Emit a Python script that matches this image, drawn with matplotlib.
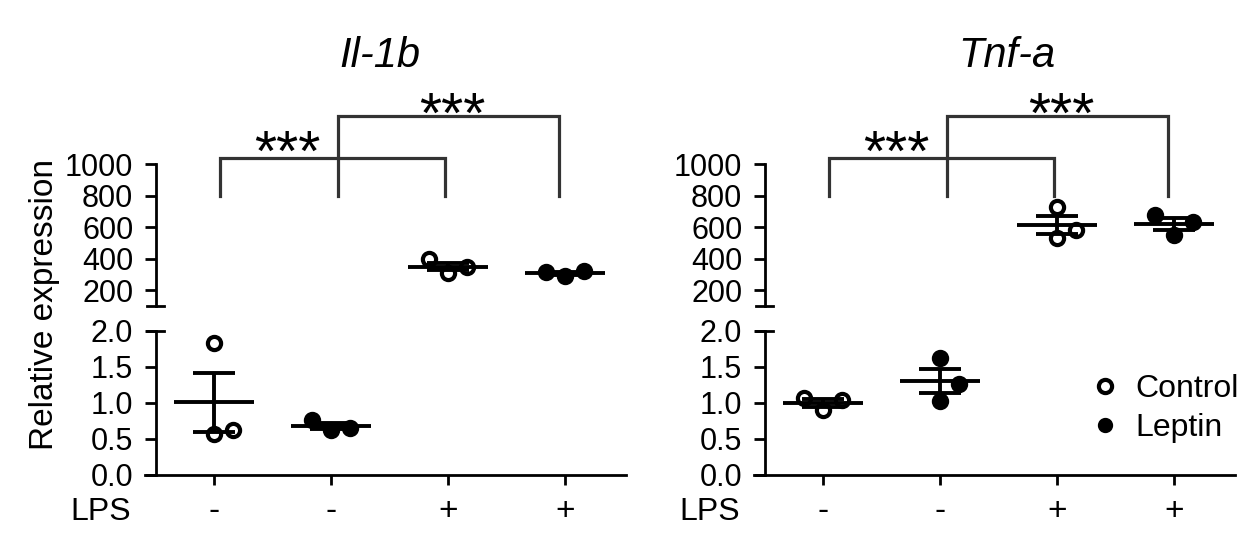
import numpy as np
import matplotlib.pyplot as plt
from matplotlib.lines import Line2D

plt.rcParams['font.family'] = ['Liberation Sans', 'DejaVu Sans']

# groups along x: treatment and LPS
treatments = ['Control', 'Leptin', 'Control', 'Leptin']
lps_labels = ['-', '-', '+', '+']

# relative expression, 3 replicates per group
il1b_values = [[1.83, 0.57, 0.63], [0.76, 0.63, 0.65], [395, 310, 345], [315, 290, 320]]
tnfa_values = [[1.07, 0.90, 1.04], [1.62, 1.27, 1.03], [727, 530, 581], [676, 549, 632]]

# horizontal spread of overlapping points (-1 left, 0 centre, 1 right)
il1b_spread = [[0, 0, 1], [-1, 0, 1], [-1, 0, 1], [-1, 0, 1]]
tnfa_spread = [[-1, 0, 1], [0, 1, 0], [0, 0, 1], [-1, 0, 1]]

# significance brackets: (from group, to group, bracket height, star x, star y)
brackets = [(0, 2, 1038, 0.63, 1051), (1, 3, 1305, 2.04, 1290)]

top_ticks = [200, 400, 600, 800, 1000]
bot_ticks = [0.0, 0.5, 1.0, 1.5, 2.0]

fig = plt.figure(figsize=(12.51, 5.33), dpi=100)

W, H = 1251.0, 533.0
top_box = (1 - 306 / H, 142 / H)
bot_box = (1 - 475 / H, 144 / H)
panel_w = 481 / W
panel_lefts = [145 / W, 754 / W]
XMIN, XMAX, YSPINE = -0.59, 3.52, -0.5

MS, MEW, LW = 9.5, 3.0, 2.8


def style_axes(ax, top):
    ax.set_xlim(XMIN, XMAX)
    ax.spines['right'].set_visible(False)
    ax.spines['top'].set_visible(False)
    ax.spines['left'].set_position(('data', YSPINE))
    for s in ax.spines.values():
        s.set_linewidth(2)
    ax.tick_params(axis='y', direction='out', length=8, width=2, labelsize=22, pad=8)
    ax.tick_params(axis='x', direction='out', length=7, width=2, labelsize=24, pad=8)
    if top:
        ax.spines['bottom'].set_visible(False)
        ax.set_xticks([])
        ax.set_ylim(100, 1000)
        ax.set_yticks(top_ticks)
        ax.plot([YSPINE - 0.075, YSPINE + 0.075], [100, 100], color='black', lw=2, clip_on=False)
    else:
        ax.set_ylim(0, 2)
        ax.set_yticks(bot_ticks)
        ax.set_yticklabels(['%.1f' % t for t in bot_ticks])
        ax.set_xticks(range(len(lps_labels)))
        ax.set_xticklabels(lps_labels)
        ax.plot([YSPINE - 0.075, YSPINE + 0.075], [2, 2], color='black', lw=2, clip_on=False)
        ax.text(-0.71, -0.315, 'LPS', transform=ax.get_xaxis_transform(),
                ha='right', va='baseline', fontsize=23)


def draw_panel(col, values, spread, title, title_x):
    left = panel_lefts[col]
    ax_top = fig.add_axes([left, top_box[0], panel_w, top_box[1]])
    ax_bot = fig.add_axes([left, bot_box[0], panel_w, bot_box[1]])
    style_axes(ax_top, True)
    style_axes(ax_bot, False)

    for i, vals in enumerate(values):
        vals = np.array(vals, dtype=float)
        x = i + np.array(spread[i]) * 0.16
        ax = ax_top if vals.mean() > 2 else ax_bot
        face = 'black' if treatments[i] == 'Leptin' else 'white'
        ax.plot(x, vals, 'o', ms=MS, mfc=face, mec='black', mew=MEW, zorder=3)
        m = vals.mean()
        sem = vals.std(ddof=1) / np.sqrt(len(vals))
        ax.hlines(m, i - 0.34, i + 0.34, color='black', lw=LW, zorder=4)
        ax.hlines([m - sem, m + sem], i - 0.18, i + 0.18, color='black', lw=LW, zorder=4)
        ax.vlines(i, m - sem, m + sem, color='black', lw=LW, zorder=4)

    ends = [(0.05, -0.03), (0.06, -0.05)]
    for (g1, g2, y, sx, sy), (d1, d2) in zip(brackets, ends):
        ax_top.plot([g1 + d1, g1 + d1, g2 + d2, g2 + d2], [800, y, y, 800],
                    color='#333333', lw=2.3, clip_on=False, solid_joinstyle='miter')
        ax_top.text(sx, sy, '***', ha='center', va='center', fontsize=41, clip_on=False)

    ax_top.text(title_x, 1.683, title, transform=ax_top.transAxes, ha='center',
                va='baseline', fontsize=30, style='italic')
    return ax_top, ax_bot


draw_panel(0, il1b_values, il1b_spread, 'Il-1b', 0.489)
draw_panel(1, tnfa_values, tnfa_spread, 'Tnf-a', 0.526)

handles = [Line2D([], [], ls='none', marker='o', ms=MS, mfc='white', mec='black', mew=MEW),
           Line2D([], [], ls='none', marker='o', ms=MS - 1.5, mfc='black', mec='black', mew=MEW)]
fig.legend(handles, ['Control', 'Leptin'], loc='center left', bbox_to_anchor=(1095 / W, 1 - 408.5 / H),
           frameon=False, fontsize=23, handlelength=0.6, handletextpad=0.66,
           labelspacing=0.3, borderpad=0, borderaxespad=0)

fig.text(45 / W, 1 - 304 / H, 'Relative expression', rotation=90, ha='center', va='center', fontsize=24)

fig.savefig('out.png', dpi=100)
